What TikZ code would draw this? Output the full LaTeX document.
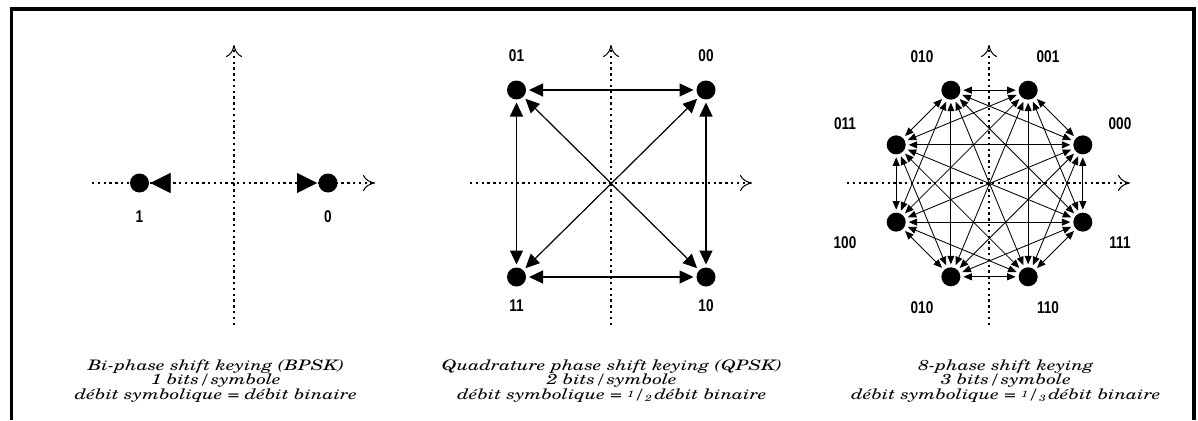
\documentclass[tikz,border=0pt]{standalone}
\usepackage{fontspec}
\usetikzlibrary{arrows.meta,calc}
\newfontfamily\lblfont{Liberation Sans}[FakeStretch=0.8]
\newfontfamily\capfont{TeX Gyre Schola}[FakeStretch=1.32]
\newcommand{\fracsup}[2]{\raisebox{0.25ex}{\fontsize{9}{9}\selectfont #1}/\raisebox{-0.25ex}{\fontsize{9}{9}\selectfont #2}}
\newcommand{\captab}[1]{\vbox{\baselineskip=14.6pt\lineskiplimit=-20pt\lineskip=0pt\halign{\hfil##\hfil\cr#1\crcr}}}
\begin{document}
\begin{tikzpicture}[x=1pt,y=-1pt,
  dot/.style={circle,fill=black,inner sep=0pt,minimum size=19pt,outer sep=#1},
  dot/.default=3pt,
  lbl/.style={font=\lblfont\bfseries\fontsize{17}{17}\selectfont,inner sep=0pt},
  captext/.style={font=\capfont\itshape\fontsize{14.5}{14.6}\selectfont,inner sep=0pt},
  axisline/.style={line width=1.1pt,dash pattern=on 2.4pt off 3.4pt,
    -{Computer Modern Rightarrow[length=12pt,width=16pt,line width=1pt]}},
  bpskarrow/.style={dash pattern=on 0pt off 1000pt,
    {Triangle[length=20pt,width=20pt]}-{Triangle[length=20pt,width=20pt]}},
  qarrow/.style={line width=1.2pt,{Triangle[length=14pt,width=13pt]}-{Triangle[length=14pt,width=13pt]}},
  oarrow/.style={line width=0.85pt,{Triangle[length=8.5pt,width=7pt]}-{Triangle[length=8.5pt,width=7pt]}}
]
\useasboundingbox (0,0) rectangle (1198,420);
% frame
\draw[line width=3.6pt] (11.5,420) -- (11.5,9.2) -- (1193.7,9.2) -- (1193.7,420);

% ---------- BPSK ----------
\coordinate (bxl) at (92,183);
\coordinate (bxr) at (375,183);
\coordinate (byb) at (234,325);
\coordinate (byt) at (234,45);
\draw[axisline] (bxl) -- (bxr);
\draw[axisline] (byb) -- (byt);
\node[dot=1.5pt] (b1) at (139.5,183) {};
\node[dot=1.5pt] (b0) at (328,183) {};
\draw[bpskarrow] (b1) -- (b0);
\node[lbl] (lb1) at (139.5,216.5) {1};
\node[lbl] (lb0) at (328,216.5) {0};
\node[captext] (c1) at (216,381) {\captab{Bi-phase shift keying (BPSK)\cr 1 bits/symbole\cr débit symbolique = débit binaire}};

% ---------- QPSK ----------
\coordinate (qxl) at (470,183);
\coordinate (qxr) at (752,183);
\coordinate (qyb) at (611,325);
\coordinate (qyt) at (611,45);
\draw[axisline] (qxl) -- (qxr);
\draw[axisline] (qyb) -- (qyt);
\node[dot] (q01) at (516.5,90) {};
\node[dot] (q00) at (706,90) {};
\node[dot] (q11) at (516.5,277) {};
\node[dot] (q10) at (706,277) {};
\draw[qarrow] (q01) -- (q00);
\draw[qarrow] (q11) -- (q10);
\draw[qarrow] (q01) -- (q11);
\draw[qarrow] (q00) -- (q10);
\draw[qarrow] (q01) -- (q10);
\draw[qarrow] (q00) -- (q11);
\node[lbl] (lq01) at (516.5,56) {01};
\node[lbl] (lq00) at (706,56) {00};
\node[lbl] (lq11) at (516.5,306) {11};
\node[lbl] (lq10) at (706,306) {10};
\node[captext] (c2) at (612,381) {\captab{Quadrature phase shift keying (QPSK)\cr 2 bits/symbole\cr débit symbolique = \fracsup{1}{2}\,débit binaire}};

% ---------- 8PSK ----------
\coordinate (oxl) at (847,183);
\coordinate (oxr) at (1130,183);
\coordinate (oyb) at (989,325);
\coordinate (oyt) at (989,45);
\draw[axisline] (oxl) -- (oxr);
\draw[axisline] (oyb) -- (oyt);
\coordinate (oc) at (989.5,183.5);
\foreach \k/\a in {1/-22.5,2/-67.5,3/-112.5,4/-157.5,5/157.5,6/112.5,7/67.5,8/22.5}{
  \node[dot] (o\k) at ($(oc)+(\a:101)$) {};
}
\foreach \i in {1,...,7}{
  \pgfmathtruncatemacro\s{\i+1}
  \foreach \j in {\s,...,8}{
    \draw[oarrow] (o\i) -- (o\j);
  }
}
\node[lbl] (lo1) at (1120,124) {000};
\node[lbl] (lo2) at (1048,57) {001};
\node[lbl] (lo3) at (922,57) {010};
\node[lbl] (lo4) at (845,124) {011};
\node[lbl] (lo5) at (845,243) {100};
\node[lbl] (lo6) at (922,308) {010};
\node[lbl] (lo7) at (1048,308) {110};
\node[lbl] (lo8) at (1120,243) {111};
\node[captext] (c3) at (1006,381) {\captab{8-phase shift keying\cr 3 bits/symbole\cr débit symbolique = \fracsup{1}{3}\,débit binaire}};
\end{tikzpicture}
\end{document}
